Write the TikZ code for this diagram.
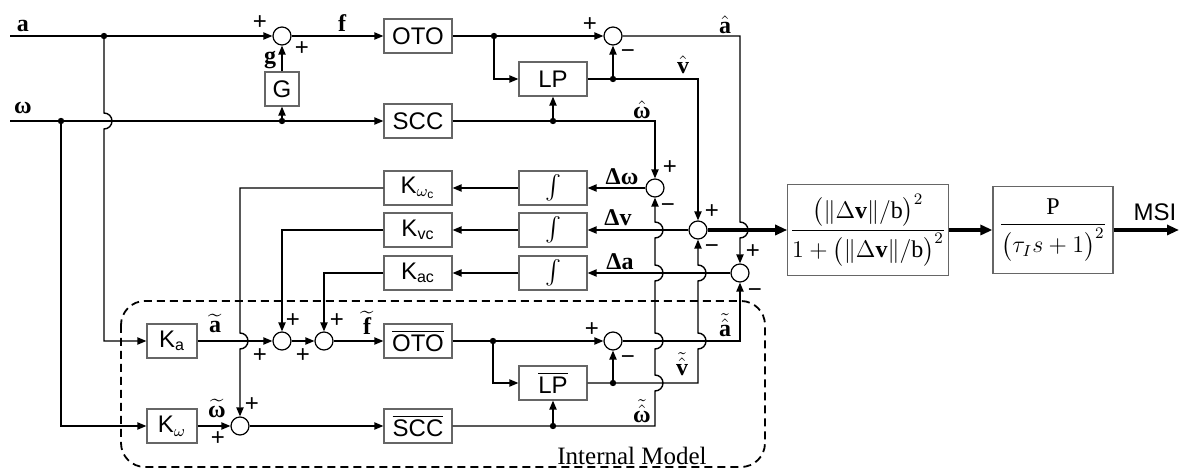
\documentclass[tikz,border=0pt]{standalone}
\usepackage{amsmath,amssymb}
\usepackage{fontspec}
\setmainfont{Liberation Serif}
\setsansfont{Liberation Sans}
\usetikzlibrary{arrows.meta,positioning,calc}

\newcommand{\bom}{\textnormal{\bfseries ω}}

\tikzset{
  block/.style={draw=black!60, line width=0.6pt, minimum width=34pt, minimum height=17pt,
    inner sep=1pt, font=\sffamily\fontsize{12}{14}\selectfont},
  sumnode/.style={draw, circle, line width=0.6pt, minimum size=9pt, inner sep=0pt},
  sig/.style={line width=0.7pt},
  bus/.style={line width=1.6pt, -{Triangle[length=6pt,width=5pt]}},
  lbl/.style={inner sep=0.5pt},
  sgn/.style={font=\sffamily\fontsize{12}{14}\selectfont, inner sep=0pt},
  hopup/.style={insert path={arc[start angle=-90,end angle=90,radius=4pt]}},
  hopdown/.style={insert path={arc[start angle=90,end angle=-90,radius=4pt]}}
}

\begin{document}
\begin{tikzpicture}[x=5pt, y=-5pt, >={Triangle[length=4.5pt,width=3.6pt]},
  font=\fontsize{12}{14}\selectfont]
  \useasboundingbox (0,0) rectangle (118,47);
  % vehicle: upper chain
  \node[sumnode] (sF) at (28.2,3.6) {};
  \node[block, minimum width=17pt] (G) at (28.2,8.9) {G};
  \node[block] (OTO) at (41.8,3.6) {OTO};
  \node[block] (SCC) at (41.8,12.1) {SCC};
  \node[block] (LP) at (55.3,7.9) {LP};
  \node[sumnode] (sA) at (61.3,3.6) {};
  % comparison, integrators and gains
  \node[sumnode] (sW) at (65.5,18.8) {};
  \node[sumnode] (sV) at (69.8,23.0) {};
  \node[sumnode] (sAc) at (74.0,27.3) {};
  \node[block] (I1) at (55.3,18.8) {$\int$};
  \node[block] (I2) at (55.3,23.0) {$\int$};
  \node[block] (I3) at (55.3,27.3) {$\int$};
  \node[block] (Kwc) at (41.8,18.8) {K$_{\omega_\mathsf{c}}$};
  \node[block] (Kvc) at (41.8,23.0) {K$_\mathsf{vc}$};
  \node[block] (Kac) at (41.8,27.3) {K$_\mathsf{ac}$};
  % internal model
  \node[block, minimum width=25pt] (Ka) at (17.2,34.1) {K$_\mathsf{a}$};
  \node[block, minimum width=25pt] (Kw) at (17.2,42.6) {K$_\omega$};
  \node[sumnode] (s1) at (28.2,34.1) {};
  \node[sumnode] (s2) at (32.4,34.1) {};
  \node[sumnode] (sO) at (24.0,42.6) {};
  \node[block] (OTOb) at (41.8,34.1) {$\overline{\text{OTO}}$};
  \node[block] (SCCb) at (41.8,42.6) {$\overline{\text{SCC}}$};
  \node[block] (LPb) at (55.3,38.3) {$\overline{\text{LP}}$};
  \node[sumnode] (sA2) at (61.3,34.1) {};
  % index blocks
  \node[block, minimum width=77pt, minimum height=45.5pt] (frac) at (86.8,23.0)
    {$\dfrac{\bigl(\lVert\Delta\mathbf{v}\rVert/\mathrm{b}\bigr)^{2}}{1+\bigl(\lVert\Delta\mathbf{v}\rVert/\mathrm{b}\bigr)^{2}}$};
  \node[block, minimum width=60pt, minimum height=43.5pt] (P) at (105.3,23.0)
    {$\dfrac{\mathrm{P}}{\bigl(\tau_{I}s+1\bigr)^{2}}$};
  % junctions
  \coordinate (ain) at (1.0,3.6);
  \coordinate (win) at (1.0,12.1);
  \coordinate (ja) at (10.4,3.6);
  \coordinate (jw) at (6.1,12.1);
  \coordinate (jg) at (28.2,12.1);
  \coordinate (jo) at (49.4,3.6);
  \coordinate (jl) at (61.3,7.9);
  \coordinate (jh) at (55.3,12.1);
  \coordinate (jo2) at (49.3,34.1);
  \coordinate (jl2) at (61.3,38.3);
  \coordinate (jh2) at (55.3,42.6);
  \coordinate (msi) at (117.9,23.0);

  % upper connectors
  \draw[sig,->] (ain) -- (sF);
  \draw[sig,->] (win) -- (SCC);
  \draw[sig,->] (ja) -- ([yshift=4pt]10.4,12.1) [hopdown] |- (Ka);
  \draw[sig,->] (jw) |- (Kw);
  \draw[sig,->] (jg) -- (G);
  \draw[sig,->] (G) -- (sF);
  \draw[sig,->] (sF) -- (OTO);
  \draw[sig,->] (OTO) -- (sA);
  \draw[sig,->] (jo) |- (LP);
  \draw[sig,->] (jl) -- (sA);
  \draw[sig,->] (jh) -- (LP);
  \draw[sig,->] (LP) -- (69.8,7.9) -- (sV);
  \draw[sig,->] (sA) -| ([yshift=4pt]74.0,23.0) [hopdown] -- (sAc);
  \draw[sig,->] (SCC) -| (sW);
  % feedback gains
  \draw[sig,->] (sW) -- (I1);
  \draw[sig,->] (I1) -- (Kwc);
  \draw[sig,->] (Kwc) -| ([yshift=4pt]24.0,34.1) [hopdown] -- (sO);
  \draw[sig,->] (sV) -- (I2);
  \draw[sig,->] (I2) -- (Kvc);
  \draw[sig,->] (Kvc) -| (s1);
  \draw[sig,->] (sAc) -- (I3);
  \draw[sig,->] (I3) -- (Kac);
  \draw[sig,->] (Kac) -| (s2);
  \draw[bus] (sV) -- (frac);
  \draw[bus] (frac) -- (P);
  \draw[bus] (P) -- (msi);
  % internal model connectors
  \draw[sig,->] (Ka) -- (s1);
  \draw[sig,->] (s1) -- (s2);
  \draw[sig,->] (s2) -- (OTOb);
  \draw[sig,->] (Kw) -- (sO);
  \draw[sig,->] (sO) -- (SCCb);
  \draw[sig,->] (OTOb) -- (sA2);
  \draw[sig,->] (jo2) |- (LPb);
  \draw[sig,->] (jl2) -- (sA2);
  \draw[sig,->] (jh2) -- (LPb);
  \draw[sig,->] (LPb) -- (69.8,38.3) -- ([yshift=-4pt]69.8,34.1) [hopup]
    -- ([yshift=-4pt]69.8,27.3) [hopup] -- (sV);
  \draw[sig,->] (sA2) -| (sAc);
  \draw[sig,->] (SCCb) -| ([yshift=-4pt]65.5,38.3) [hopup] -- ([yshift=-4pt]65.5,34.1) [hopup]
    -- ([yshift=-4pt]65.5,27.3) [hopup] -- ([yshift=-4pt]65.5,23.0) [hopup] -- (sW);
  \foreach \j in {ja,jw,jg,jo,jl,jh,jo2,jl2,jh2}
    \fill (\j) circle (1.6pt);

  % dashed frame
  \draw[line width=0.9pt, dash pattern=on 4pt off 2.5pt, rounded corners=12pt]
    (12.1,30.1) rectangle (76.5,46.7);
  \node[font=\fontsize{12.5}{14}\selectfont] (imlbl) at (63.2,45.6) {Internal Model};

  % signal labels
  \node[lbl] (la) at (2.3,2.6) {$\mathbf{a}$};
  \node[lbl] (lw) at (2.3,10.8) {$\bom$};
  \node[lbl] (lg) at (27.0,6.0) {$\mathbf{g}$};
  \node[lbl] (lf) at (34.2,2.3) {$\mathbf{f}$};
  \node[lbl] (lah) at (72.5,2.5) {$\hat{\mathbf{a}}$};
  \node[lbl] (lvh) at (68.3,6.5) {$\hat{\mathbf{v}}$};
  \node[lbl] (lwh) at (64.2,11.0) {$\hat{\bom}$};
  \node[lbl] (ldw) at (62.2,17.7) {\bfseries Δω};
  \node[lbl] (ldv) at (61.8,21.8) {\bfseries Δv};
  \node[lbl] (lda) at (62.0,26.2) {\bfseries Δa};
  \node[lbl] (lat) at (21.5,32.3) {$\widetilde{\mathbf{a}}$};
  \node[lbl] (lft) at (36.7,32.3) {$\widetilde{\mathbf{f}}$};
  \node[lbl] (lwt) at (21.7,40.8) {$\widetilde{\bom}$};
  \node[lbl] (lath) at (72.5,32.5) {$\tilde{\hat{\mathbf{a}}}$};
  \node[lbl] (lvth) at (68.2,36.4) {$\tilde{\hat{\mathbf{v}}}$};
  \node[lbl] (lwth) at (64.2,41.1) {$\tilde{\hat{\bom}}$};
  \node[lbl, font=\sffamily\fontsize{12}{14}\selectfont] (lmsi) at (115.5,21.2) {MSI};

  % signs at the summers
  \node[sgn] (pF1) at (26.0,2.3) {+};
  \node[sgn] (pF2) at (30.2,4.9) {+};
  \node[sgn] (pA1) at (59.0,2.5) {+};
  \node[sgn] (mA1) at (62.8,5.4) {−};
  \node[sgn] (pW) at (67.0,16.8) {+};
  \node[sgn] (mW) at (66.8,20.8) {−};
  \node[sgn] (pV) at (71.2,21.2) {+};
  \node[sgn] (mV) at (71.2,24.9) {−};
  \node[sgn] (pAc) at (75.3,25.2) {+};
  \node[sgn] (mAc) at (75.5,29.3) {−};
  \node[sgn] (p1a) at (26.0,35.6) {+};
  \node[sgn] (p1b) at (29.3,32.1) {+};
  \node[sgn] (p2a) at (30.3,35.6) {+};
  \node[sgn] (p2b) at (33.7,32.1) {+};
  \node[sgn] (pOa) at (21.8,43.9) {+};
  \node[sgn] (pOb) at (25.2,40.5) {+};
  \node[sgn] (pA2) at (59.2,33.0) {+};
  \node[sgn] (mA2) at (62.8,36.0) {−};
\end{tikzpicture}
\end{document}
